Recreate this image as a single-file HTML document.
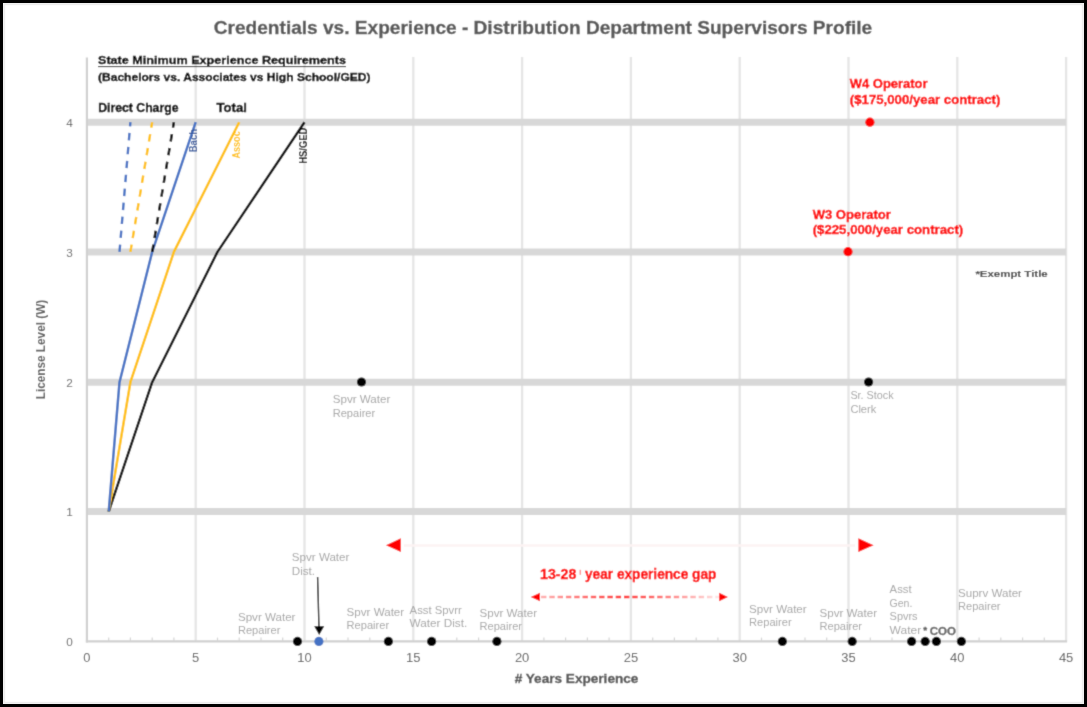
<!DOCTYPE html>
<html><head><meta charset="utf-8"><style>
html,body{margin:0;padding:0;background:#fff;width:1087px;height:707px;overflow:hidden}
svg{display:block}
text{font-family:"Liberation Sans",sans-serif}
</style></head><body>
<svg width="1087" height="707" viewBox="0 0 1087 707">
<defs><filter id="bl" x="0" y="0" width="1087" height="707" filterUnits="userSpaceOnUse"><feConvolveMatrix order="3" kernelMatrix="0.01917 0.10012 0.01917 0.10012 0.52283 0.10012 0.01917 0.10012 0.01917" edgeMode="duplicate" preserveAlpha="true"/></filter></defs>
<g filter="url(#bl)">
<rect x="0" y="0" width="1087" height="707" fill="#fff"/>
<line x1="195.7" y1="56.9" x2="195.7" y2="641.4" stroke="#e5e5e5" stroke-width="2.3"/>
<line x1="304.5" y1="56.9" x2="304.5" y2="641.4" stroke="#e5e5e5" stroke-width="2.3"/>
<line x1="413.3" y1="56.9" x2="413.3" y2="641.4" stroke="#e5e5e5" stroke-width="2.3"/>
<line x1="522.1" y1="56.9" x2="522.1" y2="641.4" stroke="#e5e5e5" stroke-width="2.3"/>
<line x1="630.9" y1="56.9" x2="630.9" y2="641.4" stroke="#e5e5e5" stroke-width="2.3"/>
<line x1="739.7" y1="56.9" x2="739.7" y2="641.4" stroke="#e5e5e5" stroke-width="2.3"/>
<line x1="848.5" y1="56.9" x2="848.5" y2="641.4" stroke="#e5e5e5" stroke-width="2.3"/>
<line x1="957.3" y1="56.9" x2="957.3" y2="641.4" stroke="#e5e5e5" stroke-width="2.3"/>
<line x1="1066.1" y1="56.9" x2="1066.1" y2="641.4" stroke="#e5e5e5" stroke-width="2.3"/>
<line x1="86.9" y1="511.6" x2="1066.1" y2="511.6" stroke="#d8d8d8" stroke-width="7"/>
<line x1="86.9" y1="382.2" x2="1066.1" y2="382.2" stroke="#d8d8d8" stroke-width="7"/>
<line x1="86.9" y1="251.9" x2="1066.1" y2="251.9" stroke="#d8d8d8" stroke-width="7"/>
<line x1="86.9" y1="122.2" x2="1066.1" y2="122.2" stroke="#d8d8d8" stroke-width="7"/>
<line x1="86.9" y1="57.5" x2="86.9" y2="642.4" stroke="#d0d0d0" stroke-width="2.2"/>
<line x1="85.9" y1="641.4" x2="1067.1" y2="641.4" stroke="#d0d0d0" stroke-width="2.2"/>
<line x1="108.7" y1="637.6" x2="108.7" y2="641.4" stroke="#d4d4d4" stroke-width="1.2"/>
<line x1="130.4" y1="637.6" x2="130.4" y2="641.4" stroke="#d4d4d4" stroke-width="1.2"/>
<line x1="152.2" y1="637.6" x2="152.2" y2="641.4" stroke="#d4d4d4" stroke-width="1.2"/>
<line x1="173.9" y1="637.6" x2="173.9" y2="641.4" stroke="#d4d4d4" stroke-width="1.2"/>
<line x1="217.5" y1="637.6" x2="217.5" y2="641.4" stroke="#d4d4d4" stroke-width="1.2"/>
<line x1="239.2" y1="637.6" x2="239.2" y2="641.4" stroke="#d4d4d4" stroke-width="1.2"/>
<line x1="261.0" y1="637.6" x2="261.0" y2="641.4" stroke="#d4d4d4" stroke-width="1.2"/>
<line x1="282.7" y1="637.6" x2="282.7" y2="641.4" stroke="#d4d4d4" stroke-width="1.2"/>
<line x1="326.3" y1="637.6" x2="326.3" y2="641.4" stroke="#d4d4d4" stroke-width="1.2"/>
<line x1="348.0" y1="637.6" x2="348.0" y2="641.4" stroke="#d4d4d4" stroke-width="1.2"/>
<line x1="369.8" y1="637.6" x2="369.8" y2="641.4" stroke="#d4d4d4" stroke-width="1.2"/>
<line x1="391.5" y1="637.6" x2="391.5" y2="641.4" stroke="#d4d4d4" stroke-width="1.2"/>
<line x1="435.1" y1="637.6" x2="435.1" y2="641.4" stroke="#d4d4d4" stroke-width="1.2"/>
<line x1="456.8" y1="637.6" x2="456.8" y2="641.4" stroke="#d4d4d4" stroke-width="1.2"/>
<line x1="478.6" y1="637.6" x2="478.6" y2="641.4" stroke="#d4d4d4" stroke-width="1.2"/>
<line x1="500.3" y1="637.6" x2="500.3" y2="641.4" stroke="#d4d4d4" stroke-width="1.2"/>
<line x1="543.9" y1="637.6" x2="543.9" y2="641.4" stroke="#d4d4d4" stroke-width="1.2"/>
<line x1="565.6" y1="637.6" x2="565.6" y2="641.4" stroke="#d4d4d4" stroke-width="1.2"/>
<line x1="587.4" y1="637.6" x2="587.4" y2="641.4" stroke="#d4d4d4" stroke-width="1.2"/>
<line x1="609.1" y1="637.6" x2="609.1" y2="641.4" stroke="#d4d4d4" stroke-width="1.2"/>
<line x1="652.7" y1="637.6" x2="652.7" y2="641.4" stroke="#d4d4d4" stroke-width="1.2"/>
<line x1="674.4" y1="637.6" x2="674.4" y2="641.4" stroke="#d4d4d4" stroke-width="1.2"/>
<line x1="696.2" y1="637.6" x2="696.2" y2="641.4" stroke="#d4d4d4" stroke-width="1.2"/>
<line x1="717.9" y1="637.6" x2="717.9" y2="641.4" stroke="#d4d4d4" stroke-width="1.2"/>
<line x1="761.5" y1="637.6" x2="761.5" y2="641.4" stroke="#d4d4d4" stroke-width="1.2"/>
<line x1="783.2" y1="637.6" x2="783.2" y2="641.4" stroke="#d4d4d4" stroke-width="1.2"/>
<line x1="805.0" y1="637.6" x2="805.0" y2="641.4" stroke="#d4d4d4" stroke-width="1.2"/>
<line x1="826.7" y1="637.6" x2="826.7" y2="641.4" stroke="#d4d4d4" stroke-width="1.2"/>
<line x1="870.3" y1="637.6" x2="870.3" y2="641.4" stroke="#d4d4d4" stroke-width="1.2"/>
<line x1="892.0" y1="637.6" x2="892.0" y2="641.4" stroke="#d4d4d4" stroke-width="1.2"/>
<line x1="913.8" y1="637.6" x2="913.8" y2="641.4" stroke="#d4d4d4" stroke-width="1.2"/>
<line x1="935.5" y1="637.6" x2="935.5" y2="641.4" stroke="#d4d4d4" stroke-width="1.2"/>
<line x1="979.1" y1="637.6" x2="979.1" y2="641.4" stroke="#d4d4d4" stroke-width="1.2"/>
<line x1="1000.8" y1="637.6" x2="1000.8" y2="641.4" stroke="#d4d4d4" stroke-width="1.2"/>
<line x1="1022.6" y1="637.6" x2="1022.6" y2="641.4" stroke="#d4d4d4" stroke-width="1.2"/>
<line x1="1044.3" y1="637.6" x2="1044.3" y2="641.4" stroke="#d4d4d4" stroke-width="1.2"/>
<text x="69.60000000000001" y="646.0" font-size="11.8" fill="#666" text-anchor="middle">0</text>
<text x="69.60000000000001" y="516.2" font-size="11.8" fill="#666" text-anchor="middle">1</text>
<text x="69.60000000000001" y="386.8" font-size="11.8" fill="#666" text-anchor="middle">2</text>
<text x="69.60000000000001" y="256.5" font-size="11.8" fill="#666" text-anchor="middle">3</text>
<text x="69.60000000000001" y="126.8" font-size="11.8" fill="#666" text-anchor="middle">4</text>
<text x="83.3" y="661.5" font-size="12" fill="#595959" textLength="7.2" lengthAdjust="spacingAndGlyphs">0</text>
<text x="192.1" y="661.5" font-size="12" fill="#595959" textLength="7.2" lengthAdjust="spacingAndGlyphs">5</text>
<text x="297.3" y="661.5" font-size="12" fill="#595959" textLength="14.4" lengthAdjust="spacingAndGlyphs">10</text>
<text x="406.1" y="661.5" font-size="12" fill="#595959" textLength="14.4" lengthAdjust="spacingAndGlyphs">15</text>
<text x="514.9" y="661.5" font-size="12" fill="#595959" textLength="14.4" lengthAdjust="spacingAndGlyphs">20</text>
<text x="623.7" y="661.5" font-size="12" fill="#595959" textLength="14.4" lengthAdjust="spacingAndGlyphs">25</text>
<text x="732.5" y="661.5" font-size="12" fill="#595959" textLength="14.4" lengthAdjust="spacingAndGlyphs">30</text>
<text x="841.3" y="661.5" font-size="12" fill="#595959" textLength="14.4" lengthAdjust="spacingAndGlyphs">35</text>
<text x="950.1" y="661.5" font-size="12" fill="#595959" textLength="14.4" lengthAdjust="spacingAndGlyphs">40</text>
<text x="1058.9" y="661.5" font-size="12" fill="#595959" textLength="14.4" lengthAdjust="spacingAndGlyphs">45</text>
<text x="213.8" y="33.7" font-size="18.8" font-weight="bold" stroke="#595959" stroke-width="0.35" fill="#595959" textLength="658.4" lengthAdjust="spacingAndGlyphs">Credentials vs. Experience - Distribution Department Supervisors Profile</text>
<text x="514.7" y="682.8" font-size="12.2" font-weight="bold" stroke="#595959" stroke-width="0.35" fill="#595959" textLength="123.7" lengthAdjust="spacingAndGlyphs"># Years Experience</text>
<text transform="translate(45.2,399.3) rotate(-90)" x="0" y="0" font-size="12.2" font-weight="bold" fill="#595959" textLength="99.5" lengthAdjust="spacingAndGlyphs">License Level (W)</text>
<text x="98.0" y="64.3" font-size="11.3" font-weight="bold" stroke="#000" stroke-width="0.35" fill="#000" textLength="248.0" lengthAdjust="spacingAndGlyphs">State Minimum Experience Requirements</text>
<line x1="98" y1="66.6" x2="346" y2="66.6" stroke="#000" stroke-width="1"/>
<text x="98.0" y="80.7" font-size="11.3" font-weight="bold" stroke="#000" stroke-width="0.35" fill="#000" textLength="272.5" lengthAdjust="spacingAndGlyphs">(Bachelors vs. Associates vs High School/GED)</text>
<text x="98.2" y="112.1" font-size="12" font-weight="bold" stroke="#000" stroke-width="0.35" fill="#000" textLength="80.3" lengthAdjust="spacingAndGlyphs">Direct Charge</text>
<text x="216.5" y="112.1" font-size="12" font-weight="bold" stroke="#000" stroke-width="0.35" fill="#000" textLength="30.3" lengthAdjust="spacingAndGlyphs">Total</text>
<polyline points="108.7,511.6 152.2,382.2 217.5,251.9 304.5,122.2" fill="none" stroke="#000000" stroke-width="2.5" stroke-linejoin="round"/>
<polyline points="108.7,511.6 130.4,382.2 173.9,251.9 239.2,122.2" fill="none" stroke="#FFC000" stroke-width="2.5" stroke-linejoin="round"/>
<polyline points="108.7,511.6 119.5,382.2 152.2,251.9 195.7,122.2" fill="none" stroke="#4472C4" stroke-width="2.5" stroke-linejoin="round"/>
<polyline points="119.5,251.9 130.4,122.2" fill="none" stroke="#4472C4" stroke-width="2.4" stroke-linejoin="round" stroke-dasharray="7.4,6.6"/>
<polyline points="130.4,251.9 152.2,122.2" fill="none" stroke="#FFC000" stroke-width="2.4" stroke-linejoin="round" stroke-dasharray="7.4,6.6"/>
<polyline points="152.2,251.9 173.9,122.2" fill="none" stroke="#000000" stroke-width="2.5" stroke-linejoin="round" stroke-dasharray="7.4,6.6"/>
<text transform="translate(196.7,152.3) rotate(-90)" x="0" y="0" font-size="11.5" font-weight="bold" fill="#34589c" textLength="23.3" lengthAdjust="spacingAndGlyphs">Bach</text>
<text transform="translate(239.9,158.5) rotate(-90)" x="0" y="0" font-size="11.5" font-weight="bold" fill="#FFC000" textLength="27.2" lengthAdjust="spacingAndGlyphs">Assoc</text>
<text transform="translate(307.2,163.8) rotate(-90)" x="0" y="0" font-size="11.5" font-weight="bold" fill="#000000" textLength="36.1" lengthAdjust="spacingAndGlyphs">HS/GED</text>
<text x="849.8" y="88.4" font-size="12" font-weight="bold" stroke="#FF0000" stroke-width="0.35" fill="#FF0000" textLength="77.7" lengthAdjust="spacingAndGlyphs">W4 Operator</text>
<text x="849.8" y="104.4" font-size="12" font-weight="bold" stroke="#FF0000" stroke-width="0.35" fill="#FF0000" textLength="150.5" lengthAdjust="spacingAndGlyphs">($175,000/year contract)</text>
<text x="812.7" y="218.7" font-size="12" font-weight="bold" stroke="#FF0000" stroke-width="0.35" fill="#FF0000" textLength="78.2" lengthAdjust="spacingAndGlyphs">W3 Operator</text>
<text x="812.7" y="234.0" font-size="12" font-weight="bold" stroke="#FF0000" stroke-width="0.35" fill="#FF0000" textLength="150.5" lengthAdjust="spacingAndGlyphs">($225,000/year contract)</text>
<text x="975.4" y="277.4" font-size="9.5" font-weight="bold" stroke="#4a4a4a" stroke-width="0.15" fill="#4a4a4a" textLength="72.3" lengthAdjust="spacingAndGlyphs">*Exempt Title</text>
<text x="332.7" y="403.2" font-size="11" fill="#a6a6a6" textLength="57.6" lengthAdjust="spacingAndGlyphs">Spvr Water</text>
<text x="332.7" y="416.8" font-size="11" fill="#a6a6a6" textLength="42.5" lengthAdjust="spacingAndGlyphs">Repairer</text>
<text x="850.4" y="399.4" font-size="11" fill="#a6a6a6" textLength="43.3" lengthAdjust="spacingAndGlyphs">Sr. Stock</text>
<text x="850.4" y="412.9" font-size="11" fill="#a6a6a6" textLength="25.9" lengthAdjust="spacingAndGlyphs">Clerk</text>
<text x="237.9" y="620.9" font-size="11" fill="#a6a6a6" textLength="57.6" lengthAdjust="spacingAndGlyphs">Spvr Water</text>
<text x="237.9" y="633.8" font-size="11" fill="#a6a6a6" textLength="42.5" lengthAdjust="spacingAndGlyphs">Repairer</text>
<text x="291.8" y="561.4" font-size="11" fill="#a6a6a6" textLength="57.6" lengthAdjust="spacingAndGlyphs">Spvr Water</text>
<text x="291.8" y="574.5" font-size="11" fill="#a6a6a6" textLength="23.3" lengthAdjust="spacingAndGlyphs">Dist.</text>
<text x="346.6" y="616.1" font-size="11" fill="#a6a6a6" textLength="57.6" lengthAdjust="spacingAndGlyphs">Spvr Water</text>
<text x="346.6" y="628.9" font-size="11" fill="#a6a6a6" textLength="42.5" lengthAdjust="spacingAndGlyphs">Repairer</text>
<text x="409.6" y="613.9" font-size="11" fill="#a6a6a6" textLength="52.2" lengthAdjust="spacingAndGlyphs">Asst Spvrr</text>
<text x="409.6" y="627.2" font-size="11" fill="#a6a6a6" textLength="57.7" lengthAdjust="spacingAndGlyphs">Water Dist.</text>
<text x="479.5" y="616.9" font-size="11" fill="#a6a6a6" textLength="57.6" lengthAdjust="spacingAndGlyphs">Spvr Water</text>
<text x="479.5" y="630.1" font-size="11" fill="#a6a6a6" textLength="42.5" lengthAdjust="spacingAndGlyphs">Repairer</text>
<text x="749.1" y="613.1" font-size="11" fill="#a6a6a6" textLength="57.6" lengthAdjust="spacingAndGlyphs">Spvr Water</text>
<text x="749.1" y="626.0" font-size="11" fill="#a6a6a6" textLength="42.5" lengthAdjust="spacingAndGlyphs">Repairer</text>
<text x="819.5" y="617.2" font-size="11" fill="#a6a6a6" textLength="57.6" lengthAdjust="spacingAndGlyphs">Spvr Water</text>
<text x="819.5" y="630.4" font-size="11" fill="#a6a6a6" textLength="42.5" lengthAdjust="spacingAndGlyphs">Repairer</text>
<text x="889.6" y="593.1" font-size="11" fill="#a6a6a6" textLength="22.0" lengthAdjust="spacingAndGlyphs">Asst</text>
<text x="889.6" y="606.8" font-size="11" fill="#a6a6a6" textLength="22.8" lengthAdjust="spacingAndGlyphs">Gen.</text>
<text x="889.6" y="619.6" font-size="11" fill="#a6a6a6" textLength="28.0" lengthAdjust="spacingAndGlyphs">Spvrs</text>
<text x="889.6" y="634.3" font-size="11" fill="#a6a6a6" textLength="31.6" lengthAdjust="spacingAndGlyphs">Water</text>
<text x="958.0" y="597.2" font-size="11" fill="#a6a6a6" textLength="64.0" lengthAdjust="spacingAndGlyphs">Suprv Water</text>
<text x="958.0" y="610.0" font-size="11" fill="#a6a6a6" textLength="42.5" lengthAdjust="spacingAndGlyphs">Repairer</text>
<text x="923.3" y="633.2" font-size="9" font-weight="bold" stroke="#606060" stroke-width="0.35" fill="#606060" textLength="3.9" lengthAdjust="spacingAndGlyphs">*</text>
<text x="929.7" y="634.6" font-size="10.6" font-weight="bold" stroke="#6a6a6a" stroke-width="0.35" fill="#6a6a6a" textLength="26.2" lengthAdjust="spacingAndGlyphs">COO</text>
<line x1="404" y1="545.5" x2="855" y2="545.5" stroke="#fdf3f3" stroke-width="2.4"/>
<polygon points="386,545.3 400.8,538.3 400.8,552.1" fill="#FF0000"/>
<polygon points="873.6,545.3 858.4,538.3 858.4,552.1" fill="#FF0000"/>
<text x="540.0" y="578.8" font-size="13.8" font-weight="bold" stroke="#FF0000" stroke-width="0.35" fill="#FF0000" textLength="36.4" lengthAdjust="spacingAndGlyphs">13-28</text>
<line x1="580.3" y1="569.8" x2="580.3" y2="574.8" stroke="#ff9090" stroke-width="1.5"/>
<text x="585.0" y="578.8" font-size="13.8" font-weight="bold" stroke="#FF0000" stroke-width="0.35" fill="#FF0000" textLength="131.4" lengthAdjust="spacingAndGlyphs">year experience gap</text>
<defs><linearGradient id="g" gradientUnits="userSpaceOnUse" x1="540" x2="719" y1="0" y2="0"><stop offset="0" stop-color="#ff0000" stop-opacity="0.3"/><stop offset="0.47" stop-color="#ff0000" stop-opacity="0.85"/><stop offset="1" stop-color="#ff0000" stop-opacity="0.1"/></linearGradient></defs>
<line x1="541" y1="597" x2="719" y2="597" stroke="url(#g)" stroke-width="2.4" stroke-dasharray="5.4,2.9"/>
<polygon points="530.8,597 540,592.8 540,601.2" fill="#FF0000"/>
<polygon points="727.9,597 719.2,592.8 719.2,601.2" fill="#FF0000"/>
<line x1="317.6" y1="577" x2="319" y2="628" stroke="#111" stroke-width="1.4"/>
<polygon points="319.2,635 314.2,626.2 324.2,626.2" fill="#000"/>
<circle cx="297.5" cy="641.4" r="4.6" fill="#000"/>
<circle cx="388.4" cy="641.4" r="4.6" fill="#000"/>
<circle cx="431.6" cy="641.4" r="4.6" fill="#000"/>
<circle cx="496.9" cy="641.4" r="4.6" fill="#000"/>
<circle cx="782.4" cy="641.4" r="4.6" fill="#000"/>
<circle cx="852.2" cy="641.4" r="4.6" fill="#000"/>
<circle cx="911.6" cy="641.4" r="4.6" fill="#000"/>
<circle cx="925.2" cy="641.4" r="4.6" fill="#000"/>
<circle cx="936.4" cy="641.4" r="4.6" fill="#000"/>
<circle cx="961.4" cy="641.4" r="4.6" fill="#000"/>
<circle cx="318.9" cy="641.4" r="4.6" fill="#4472C4"/>
<circle cx="361.5" cy="382.0" r="4.6" fill="#000"/>
<circle cx="868.6" cy="382.0" r="4.6" fill="#000"/>
<circle cx="869.9" cy="122.2" r="4.6" fill="#FF0000"/>
<circle cx="848.0" cy="251.7" r="4.6" fill="#FF0000"/>
</g>
<rect x="4.2" y="4.2" width="1078.6" height="698.6" fill="none" stroke="#ededed" stroke-width="2"/>
<rect x="1.5" y="1.5" width="1084" height="704" fill="none" stroke="#000" stroke-width="3"/>
</svg>
</body></html>
